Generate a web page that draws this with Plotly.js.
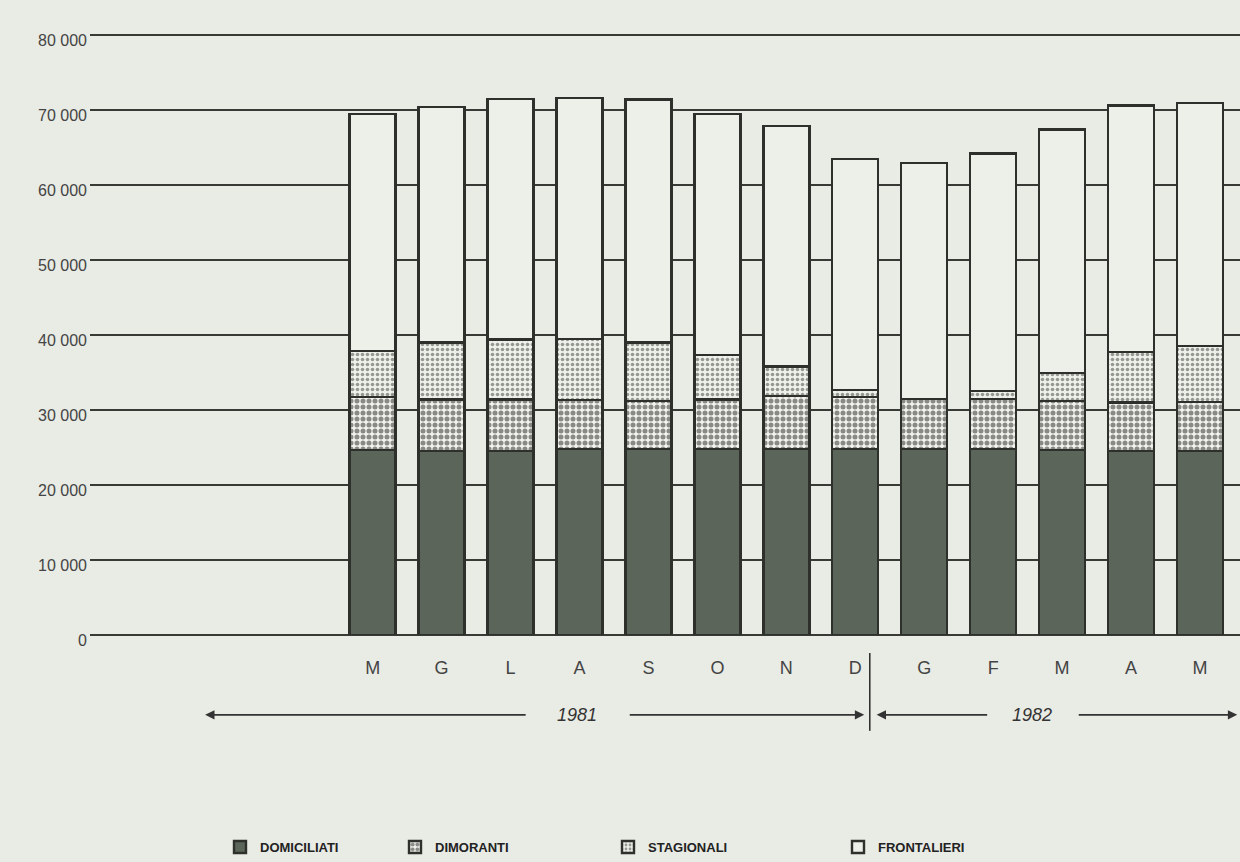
<!DOCTYPE html>
<html>
<head>
<meta charset="utf-8">
<script src="https://cdn.plot.ly/plotly-3.0.1.min.js"></script>
<style>
  html, body { margin: 0; padding: 0; background: #e9ebe5; }
  #chart { width: 1240px; height: 862px; }
</style>
</head>
<body>
<div id="chart"></div>
<script>
// ---- data ----
const months = ['M', 'G', 'L', 'A', 'S', 'O', 'N', 'D', 'G', 'F', 'M', 'A', 'M'];
const domiciliati = [24700, 24500, 24500, 24800, 24800, 24800, 24800, 24800, 24800, 24800, 24700, 24500, 24500];
const dimoranti   = [7000, 6900, 6900, 6500, 6400, 6600, 7100, 6900, 6700, 6700, 6500, 6500, 6600];
const stagionali  = [6200, 7600, 8000, 8200, 7800, 5900, 3900, 1000, 0, 1000, 3700, 6700, 7400];
const frontalieri = [31600, 31400, 32100, 32100, 32400, 32200, 32100, 30800, 31400, 31700, 32500, 32900, 32400];
const yTickVals = [0, 10000, 20000, 30000, 40000, 50000, 60000, 70000, 80000];
const yTickText = ['0', '10 000', '20 000', '30 000', '40 000', '50 000', '60 000', '70 000', '80 000'];
const years = ['1981', '1982'];

// ---- styling ----
const bg = '#e9ebe5';
const ink = '#2e302c';
const xIdx = months.map((_, i) => i);
const lineStyle = { color: ink, width: 2.4 };

const traces = [
  {
    type: 'bar', name: 'DOMICILIATI', x: xIdx, y: domiciliati,
    marker: { color: '#5c6559', line: lineStyle },
    legend: 'legend'
  },
  {
    type: 'bar', name: 'DIMORANTI', x: xIdx, y: dimoranti,
    marker: { color: '#f2f3ee', line: lineStyle,
      pattern: { shape: '.', fgcolor: '#1f201e', bgcolor: '#f2f3ee', size: 6, solidity: 0.55, fillmode: 'overlay' } },
    legend: 'legend2'
  },
  {
    type: 'bar', name: 'STAGIONALI', x: xIdx, y: stagionali,
    marker: { color: '#eef0ea', line: lineStyle,
      pattern: { shape: '.', fgcolor: '#3c3e38', bgcolor: '#eef0ea', size: 5, solidity: 0.4, fillmode: 'overlay' } },
    legend: 'legend3'
  },
  {
    type: 'bar', name: 'FRONTALIERI', x: xIdx, y: frontalieri,
    marker: { color: '#edefe9', line: lineStyle },
    legend: 'legend4'
  }
];

// pixel helpers for decorations only (not data)
const plotLeft = 90, plotTop = 32, plotH = 604, plotW = 1150;
const xr = [-4.10, 12.58];
function py2paper(py) { return (plotTop + plotH - py) / plotH; }

const arrowY = py2paper(716);
const arrowCommon = { yref: 'paper', xref: 'x', showarrow: true, arrowhead: 2, arrowsize: 1.1,
  arrowwidth: 1.7, arrowcolor: '#333', ayref: 'pixel', axref: 'pixel', ay: 0, text: '' };
const yearFont = { family: 'Liberation Sans, Arial, sans-serif', size: 18, color: '#333' };

const annotations = [
  Object.assign({}, arrowCommon, { x: -2.43, y: arrowY, ax: 322 }),
  Object.assign({}, arrowCommon, { x: 7.13, y: arrowY, ax: -236 }),
  Object.assign({}, arrowCommon, { x: 7.31, y: arrowY, ax: 112 }),
  Object.assign({}, arrowCommon, { x: 12.54, y: arrowY, ax: -160 }),
  { xref: 'x', yref: 'paper', x: 2.97, y: arrowY, text: '<i>' + years[0] + '</i>', showarrow: false,
    font: yearFont, xanchor: 'center', yanchor: 'middle' },
  { xref: 'x', yref: 'paper', x: 9.57, y: arrowY, text: '<i>' + years[1] + '</i>', showarrow: false,
    font: yearFont, xanchor: 'center', yanchor: 'middle' }
];

const shapes = [
  { type: 'line', xref: 'x', yref: 'paper', x0: 7.21, x1: 7.21, y0: py2paper(654), y1: py2paper(732),
    line: { color: '#333', width: 1.6 } }
];

function legendAt(px, py) {
  return {
    orientation: 'h', x: (px - plotLeft) / plotW, y: py2paper(py), xanchor: 'left', yanchor: 'middle',
    bgcolor: 'rgba(0,0,0,0)', borderwidth: 0,
    font: { family: 'Liberation Sans, Arial, sans-serif', size: 13, color: '#222', weight: 'bold' }
  };
}

const layout = {
  width: 1240, height: 862,
  paper_bgcolor: bg, plot_bgcolor: bg,
  margin: { l: plotLeft, r: 0, t: plotTop, b: 862 - plotTop - plotH, pad: 0 },
  barmode: 'stack', bargap: 0.333,
  showlegend: true,
  legend: legendAt(220, 848),
  legend2: legendAt(395, 848),
  legend3: legendAt(608, 848),
  legend4: legendAt(838, 848),
  font: { family: 'Liberation Sans, Arial, sans-serif', color: '#444' },
  xaxis: {
    range: xr, tickmode: 'array', tickvals: xIdx, ticktext: months,
    showgrid: false, zeroline: false, showline: false, ticks: '',
    ticklabelstandoff: 20,
    tickfont: { family: 'Liberation Sans, Arial, sans-serif', size: 18, color: '#444' },
    fixedrange: true
  },
  yaxis: {
    range: [0, 80400], tickmode: 'array', tickvals: yTickVals, ticktext: yTickText,
    showgrid: true, gridcolor: '#383a36', gridwidth: 1.8,
    zeroline: true, zerolinecolor: '#383a36', zerolinewidth: 1.8,
    showline: false, ticks: '', ticklabelshift: 5, ticklabelstandoff: 2,
    tickfont: { family: 'Liberation Sans, Arial, sans-serif', size: 16, color: '#444' },
    fixedrange: true
  },
  annotations: annotations,
  shapes: shapes
};

Plotly.newPlot('chart', traces, layout, { displayModeBar: false, staticPlot: true });
</script>
</body>
</html>
